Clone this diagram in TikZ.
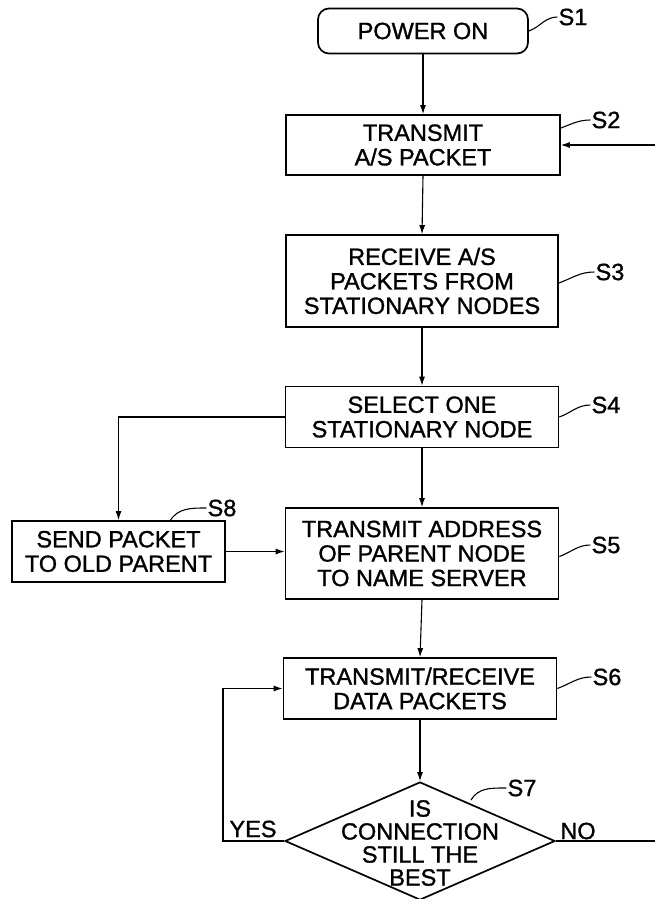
\documentclass[tikz,border=0pt]{standalone}
\usepackage{fontspec}
\setmainfont{Liberation Sans}[FakeBold=1.2]
\usetikzlibrary{shapes.geometric,arrows.meta}
\begin{document}
\begin{tikzpicture}[x=1pt,y=1pt,
  font=\fontsize{23.5}{24.5}\selectfont,
  box/.style={draw,line width=1.7pt,align=center,inner sep=0pt},
  conn/.style={line width=1.1pt},
  arr/.style={conn,-{Latex[length=9pt,width=6pt]}},
  tag/.style={inner sep=1pt},
  squig/.style={line width=1.1pt}
]
\useasboundingbox (0,0) rectangle (654,-899);
% boxes
\node[box,rounded corners=11pt,minimum width=210pt,minimum height=45pt] (s1) at (423,-31) {POWER ON};
\node[box,minimum width=274pt,minimum height=60pt] (s2) at (423,-145) {TRANSMIT\\A/S PACKET};
\node[box,minimum width=272pt,minimum height=92pt] (s3) at (422,-281) {RECEIVE A/S\\PACKETS FROM\\STATIONARY NODES};
\node[box,minimum width=273pt,minimum height=61pt] (s4) at (422,-417) {SELECT ONE\\STATIONARY NODE};
\node[box,minimum width=273pt,minimum height=91pt] (s5) at (422,-553.5) {TRANSMIT ADDRESS\\OF PARENT NODE\\TO NAME SERVER};
\node[box,minimum width=273pt,minimum height=61pt] (s6) at (420,-688.5) {TRANSMIT/RECEIVE\\DATA PACKETS};
\node[box,minimum width=213pt,minimum height=61pt] (s8) at (118.5,-551.5) {SEND PACKET\\TO OLD PARENT};
\node[draw,diamond,line width=1.7pt,inner sep=0pt,minimum width=270pt,minimum height=118pt] (s7) at (420,-841) {};
\node[align=center,inner sep=0pt,font=\fontsize{23.5}{23}\selectfont] (s7t) at (420,-843) {IS\\CONNECTION\\STILL THE\\BEST};
% step tags
\node[tag] (t1) at (573,-17) {S1};
\node[tag] (t2) at (606,-120) {S2};
\node[tag] (t3) at (610,-272) {S3};
\node[tag] (t4) at (606,-405) {S4};
\node[tag] (t5) at (606,-545) {S5};
\node[tag] (t6) at (607,-677) {S6};
\node[tag] (t7) at (522,-788) {S7};
\node[tag] (t8) at (222,-508) {S8};
\draw[squig] (s1.east) to[out=20,in=180] (t1.west);
\draw[squig] ([yshift=17pt]s2.east) to[out=20,in=180] (t2.west);
\draw[squig] ([yshift=-2pt]s3.east) to[out=20,in=180] (t3.west);
\draw[squig] (s4.east) to[out=20,in=180] (t4.west);
\draw[squig] ([yshift=-3pt]s5.east) to[out=20,in=180] (t5.west);
\draw[squig] (s6.east) to[out=20,in=180] (t6.west);
\coordinate (s7edge) at (471,-800);
\draw[squig] (s7edge) to[out=60,in=180] (t7.west);
\coordinate (s8edge) at (170,-521);
\draw[squig] (s8edge) to[out=60,in=180] (t8.west);
% connectors
\draw[arr] (s1.south) -- (s2.north);
\draw[arr] (s2.south) -- (s3.north);
\draw[arr] (s3.south) -- (s4.north);
\draw[arr] (s4.south) -- (s5.north);
\draw[arr] (s5.south) -- (s6.north);
\draw[arr] (s6.south) -- (s7.north);
\draw[arr] (s4.west) -| (s8.north);
\draw[arr] (s8.east) -- (s8.east -| s5.west);
\coordinate (yescorner) at (223,-841);
\draw[arr] (s7.west) -- (yescorner) |- (s6.west);
\node[inner sep=0pt] (yes) at (253,-829) {YES};
\coordinate (noend) at (656,-841);
\draw[conn] (s7.east) -- (noend);
\node[inner sep=0pt] (no) at (578,-831) {NO};
\coordinate (fbstart) at (656,-145);
\draw[arr] (fbstart) -- (s2.east);
\end{tikzpicture}
\end{document}
